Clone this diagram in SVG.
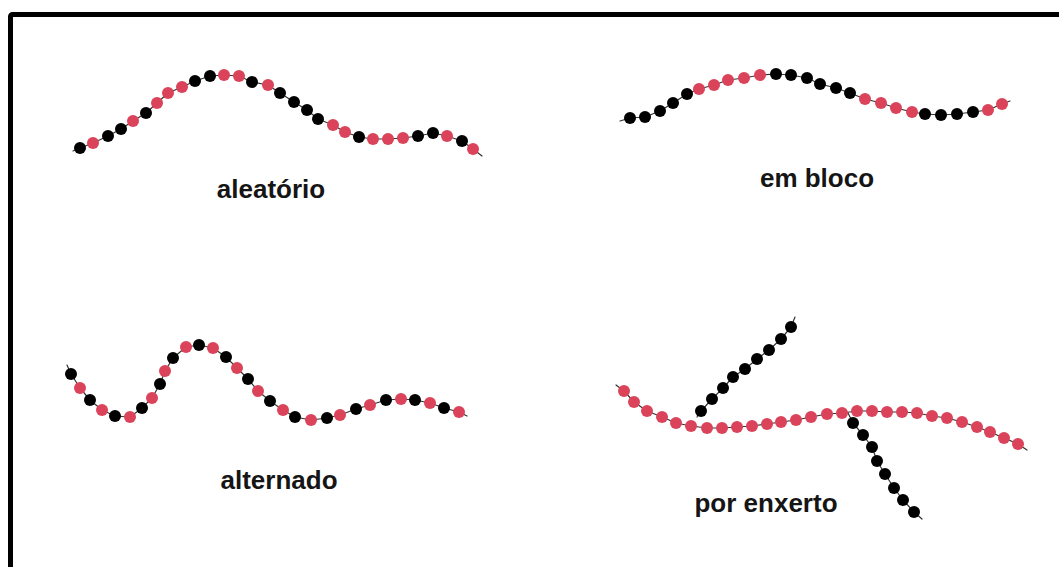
<svg xmlns="http://www.w3.org/2000/svg" width="1059" height="567" viewBox="0 0 1059 567">
  <style>
    .frame { fill: none; stroke: #000; stroke-width: 5; stroke-linejoin: round; }
    .spine { fill: none; stroke: #333; stroke-width: 1.2; stroke-linecap: round; stroke-linejoin: round; }
    .r { fill: #da4359; }
    .k { fill: #000; }
    .label { font-family: "Liberation Sans", Arial, sans-serif; font-size: 26px; font-weight: bold; fill: #151515; text-anchor: middle; }
  </style>

  <!-- outer frame (right and bottom sides run off the canvas) -->
  <rect class="frame" x="10.5" y="14.5" width="1070" height="580" rx="2"/>

  <!-- random copolymer -->
  <g id="aleatorio">
    <polyline class="spine" points="73,151 80,148 93,143 108,136 121,129 133,121 146,113 157,103 168,93 182,87 195,81 210,76 224,75 239,76 252,82 268,85 280,93 294,102 307,110 318,119 333,125 345,132 359,137 373,139 388,139 403,138 418,136 433,133 447,136 462,141 473,149 482,156"/>
    <g>
      <circle class="k" cx="80" cy="148" r="6"/>
      <circle class="r" cx="93" cy="143" r="6"/>
      <circle class="k" cx="108" cy="136" r="6"/>
      <circle class="k" cx="121" cy="129" r="6"/>
      <circle class="r" cx="133" cy="121" r="6"/>
      <circle class="k" cx="146" cy="113" r="6"/>
      <circle class="r" cx="157" cy="103" r="6"/>
      <circle class="r" cx="168" cy="93" r="6"/>
      <circle class="r" cx="182" cy="87" r="6"/>
      <circle class="k" cx="195" cy="81" r="6"/>
      <circle class="k" cx="210" cy="76" r="6"/>
      <circle class="r" cx="224" cy="75" r="6"/>
      <circle class="r" cx="239" cy="76" r="6"/>
      <circle class="k" cx="252" cy="82" r="6"/>
      <circle class="r" cx="268" cy="85" r="6"/>
      <circle class="k" cx="280" cy="93" r="6"/>
      <circle class="k" cx="294" cy="102" r="6"/>
      <circle class="k" cx="307" cy="110" r="6"/>
      <circle class="k" cx="318" cy="119" r="6"/>
      <circle class="r" cx="333" cy="125" r="6"/>
      <circle class="r" cx="345" cy="132" r="6"/>
      <circle class="k" cx="359" cy="137" r="6"/>
      <circle class="r" cx="373" cy="139" r="6"/>
      <circle class="r" cx="388" cy="139" r="6"/>
      <circle class="r" cx="403" cy="138" r="6"/>
      <circle class="k" cx="418" cy="136" r="6"/>
      <circle class="k" cx="433" cy="133" r="6"/>
      <circle class="r" cx="447" cy="136" r="6"/>
      <circle class="k" cx="462" cy="141" r="6"/>
      <circle class="r" cx="473" cy="149" r="6"/>
    </g>
    <text class="label" x="271" y="198">aleatório</text>
  </g>

  <!-- block copolymer -->
  <g id="em-bloco">
    <polyline class="spine" points="620,121 630,118 645,117 660,111 673,103 687,94 699,89 714,85 728,80 744,78 760,75 776,74 791,75 807,78 820,84 836,88 850,93 865,99 881,103 896,108 912,112 925,114 941,115 957,114 973,112 988,110 1002,104 1010,101"/>
    <g>
      <circle class="k" cx="630" cy="118" r="6"/>
      <circle class="k" cx="645" cy="117" r="6"/>
      <circle class="k" cx="660" cy="111" r="6"/>
      <circle class="k" cx="673" cy="103" r="6"/>
      <circle class="k" cx="687" cy="94" r="6"/>
      <circle class="r" cx="699" cy="89" r="6"/>
      <circle class="r" cx="714" cy="85" r="6"/>
      <circle class="r" cx="728" cy="80" r="6"/>
      <circle class="r" cx="744" cy="78" r="6"/>
      <circle class="r" cx="760" cy="75" r="6"/>
      <circle class="k" cx="776" cy="74" r="6"/>
      <circle class="k" cx="791" cy="75" r="6"/>
      <circle class="k" cx="807" cy="78" r="6"/>
      <circle class="k" cx="820" cy="84" r="6"/>
      <circle class="k" cx="836" cy="88" r="6"/>
      <circle class="k" cx="850" cy="93" r="6"/>
      <circle class="r" cx="865" cy="99" r="6"/>
      <circle class="r" cx="881" cy="103" r="6"/>
      <circle class="r" cx="896" cy="108" r="6"/>
      <circle class="r" cx="912" cy="112" r="6"/>
      <circle class="k" cx="925" cy="114" r="6"/>
      <circle class="k" cx="941" cy="115" r="6"/>
      <circle class="k" cx="957" cy="114" r="6"/>
      <circle class="k" cx="973" cy="112" r="6"/>
      <circle class="r" cx="988" cy="110" r="6"/>
      <circle class="r" cx="1002" cy="104" r="6"/>
    </g>
    <text class="label" x="817" y="187">em bloco</text>
  </g>

  <!-- alternating copolymer -->
  <g id="alternado">
    <polyline class="spine" points="67,365 71,374 80,388 90,400 102,410 115,416 130,417 142,408 152,398 160,384 165,371 173,358 186,347 199,345 213,348 226,357 237,368 248,379 258,391 270,401 283,410 295,417 311,420 327,418 340,415 356,409 370,405 386,400 401,399 415,400 430,403 444,408 459,412 467,416"/>
    <g>
      <circle class="k" cx="71" cy="374" r="6"/>
      <circle class="r" cx="80" cy="388" r="6"/>
      <circle class="k" cx="90" cy="400" r="6"/>
      <circle class="r" cx="102" cy="410" r="6"/>
      <circle class="k" cx="115" cy="416" r="6"/>
      <circle class="r" cx="130" cy="417" r="6"/>
      <circle class="k" cx="142" cy="408" r="6"/>
      <circle class="r" cx="152" cy="398" r="6"/>
      <circle class="k" cx="160" cy="384" r="6"/>
      <circle class="r" cx="165" cy="371" r="6"/>
      <circle class="k" cx="173" cy="358" r="6"/>
      <circle class="r" cx="186" cy="347" r="6"/>
      <circle class="k" cx="199" cy="345" r="6"/>
      <circle class="r" cx="213" cy="348" r="6"/>
      <circle class="k" cx="226" cy="357" r="6"/>
      <circle class="r" cx="237" cy="368" r="6"/>
      <circle class="k" cx="248" cy="379" r="6"/>
      <circle class="r" cx="258" cy="391" r="6"/>
      <circle class="k" cx="270" cy="401" r="6"/>
      <circle class="r" cx="283" cy="410" r="6"/>
      <circle class="k" cx="295" cy="417" r="6"/>
      <circle class="r" cx="311" cy="420" r="6"/>
      <circle class="k" cx="327" cy="418" r="6"/>
      <circle class="r" cx="340" cy="415" r="6"/>
      <circle class="k" cx="356" cy="409" r="6"/>
      <circle class="r" cx="370" cy="405" r="6"/>
      <circle class="k" cx="386" cy="400" r="6"/>
      <circle class="r" cx="401" cy="399" r="6"/>
      <circle class="k" cx="415" cy="400" r="6"/>
      <circle class="r" cx="430" cy="403" r="6"/>
      <circle class="k" cx="444" cy="408" r="6"/>
      <circle class="r" cx="459" cy="412" r="6"/>
    </g>
    <text class="label" x="279" y="489">alternado</text>
  </g>

  <!-- graft copolymer: red backbone with two black side chains -->
  <g id="por-enxerto">
    <polyline class="spine" points="697,417 701,411 712,399 723,388 733,377 745,369 757,359 769,350 781,339 791,327 795,317"/>
    <polyline class="spine" points="848,413 853,423 863,435 872,447 877,461 885,474 894,488 903,500 914,512 922,519"/>
    <polyline class="spine" points="616,385 624,391 634,402 647,411 662,417 676,423 691,426 707,428 722,428 737,427 752,426 767,424 781,422 796,420 811,417 827,414 842,413 857,411 872,411 887,412 902,412 917,413 932,416 947,418 962,422 977,427 990,432 1004,438 1018,444 1027,450"/>
    <g>
      <circle class="k" cx="701" cy="411" r="6"/>
      <circle class="k" cx="712" cy="399" r="6"/>
      <circle class="k" cx="723" cy="388" r="6"/>
      <circle class="k" cx="733" cy="377" r="6"/>
      <circle class="k" cx="745" cy="369" r="6"/>
      <circle class="k" cx="757" cy="359" r="6"/>
      <circle class="k" cx="769" cy="350" r="6"/>
      <circle class="k" cx="781" cy="339" r="6"/>
      <circle class="k" cx="791" cy="327" r="6"/>
    </g>
    <g>
      <circle class="k" cx="853" cy="423" r="6"/>
      <circle class="k" cx="863" cy="435" r="6"/>
      <circle class="k" cx="872" cy="447" r="6"/>
      <circle class="k" cx="877" cy="461" r="6"/>
      <circle class="k" cx="885" cy="474" r="6"/>
      <circle class="k" cx="894" cy="488" r="6"/>
      <circle class="k" cx="903" cy="500" r="6"/>
      <circle class="k" cx="914" cy="512" r="6"/>
    </g>
    <g>
      <circle class="r" cx="624" cy="391" r="6"/>
      <circle class="r" cx="634" cy="402" r="6"/>
      <circle class="r" cx="647" cy="411" r="6"/>
      <circle class="r" cx="662" cy="417" r="6"/>
      <circle class="r" cx="676" cy="423" r="6"/>
      <circle class="r" cx="691" cy="426" r="6"/>
      <circle class="r" cx="707" cy="428" r="6"/>
      <circle class="r" cx="722" cy="428" r="6"/>
      <circle class="r" cx="737" cy="427" r="6"/>
      <circle class="r" cx="752" cy="426" r="6"/>
      <circle class="r" cx="767" cy="424" r="6"/>
      <circle class="r" cx="781" cy="422" r="6"/>
      <circle class="r" cx="796" cy="420" r="6"/>
      <circle class="r" cx="811" cy="417" r="6"/>
      <circle class="r" cx="827" cy="414" r="6"/>
      <circle class="r" cx="842" cy="413" r="6"/>
      <circle class="r" cx="857" cy="411" r="6"/>
      <circle class="r" cx="872" cy="411" r="6"/>
      <circle class="r" cx="887" cy="412" r="6"/>
      <circle class="r" cx="902" cy="412" r="6"/>
      <circle class="r" cx="917" cy="413" r="6"/>
      <circle class="r" cx="932" cy="416" r="6"/>
      <circle class="r" cx="947" cy="418" r="6"/>
      <circle class="r" cx="962" cy="422" r="6"/>
      <circle class="r" cx="977" cy="427" r="6"/>
      <circle class="r" cx="990" cy="432" r="6"/>
      <circle class="r" cx="1004" cy="438" r="6"/>
      <circle class="r" cx="1018" cy="444" r="6"/>
    </g>
    <text class="label" x="766" y="512">por enxerto</text>
  </g>
</svg>
